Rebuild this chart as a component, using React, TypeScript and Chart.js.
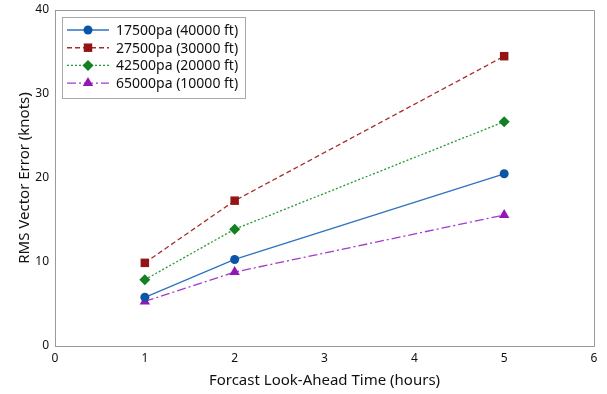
import React, { useEffect, useRef } from "react";
import { Chart, registerables } from "chart.js";
Chart.register(...registerables);

const hours = [1, 2, 5];
const err17500 = [5.8, 10.3, 20.5];
const err27500 = [9.9, 17.3, 34.5];
const err42500 = [7.9, 13.9, 26.7];
const err65000 = [5.3, 8.8, 15.6];
const seriesLabels = [
  "17500pa (40000 ft)",
  "27500pa (30000 ft)",
  "42500pa (20000 ft)",
  "65000pa (10000 ft)",
];
const xTitle = "Forcast Look-Ahead Time (hours)";
const yTitle = "RMS Vector Error (knots)";

const FONT = "'Noto Sans', 'Open Sans', sans-serif";
const AXIS = "#9a9a9a";
const TEXT = "#111";

function marker(ctx: CanvasRenderingContext2D, style: string, x: number, y: number, r: number) {
  ctx.beginPath();
  if (style === "circle") {
    ctx.arc(x, y, r, 0, Math.PI * 2);
  } else if (style === "rect") {
    const s = r * Math.SQRT1_2;
    ctx.rect(x - s, y - s, 2 * s, 2 * s);
  } else if (style === "rectRot") {
    ctx.moveTo(x, y - r);
    ctx.lineTo(x + r, y);
    ctx.lineTo(x, y + r);
    ctx.lineTo(x - r, y);
    ctx.closePath();
  } else if (style === "triangle") {
    ctx.moveTo(x, y - r);
    ctx.lineTo(x + r * 0.866, y + r * 0.5);
    ctx.lineTo(x - r * 0.866, y + r * 0.5);
    ctx.closePath();
  }
  ctx.fill();
}

const legendPlugin = {
  id: "insideLegend",
  afterDraw(chart: any) {
    const ctx = chart.ctx;
    const ca = chart.chartArea;
    const x0 = ca.left + 7, y0 = ca.top + 7, w = 183, h = 81;
    ctx.save();
    ctx.fillStyle = "#fff";
    ctx.fillRect(x0, y0, w, h);
    ctx.strokeStyle = "#a8a8a8";
    ctx.lineWidth = 1;
    ctx.strokeRect(x0 + 0.5, y0 + 0.5, w, h);
    chart.data.datasets.forEach((ds: any, i: number) => {
      const y = y0 + 13 + i * 17.7;
      ctx.strokeStyle = ds.borderColor;
      ctx.lineWidth = 1.4;
      ctx.setLineDash(ds.borderDash || []);
      ctx.beginPath();
      ctx.moveTo(x0 + 5, y);
      ctx.lineTo(x0 + 47, y);
      ctx.stroke();
      ctx.setLineDash([]);
      ctx.fillStyle = ds.pointBackgroundColor;
      marker(ctx, ds.pointStyle, x0 + 26, y, ds.pointRadius);
      ctx.fillStyle = TEXT;
      ctx.font = "14px " + FONT;
      ctx.textBaseline = "middle";
      ctx.textAlign = "left";
      ctx.fillText(ds.label, x0 + 54, y + 1);
    });
    ctx.restore();
  },
};

const framePlugin = {
  id: "frame",
  afterDatasetsDraw(chart: any) {
    const ctx = chart.ctx;
    const ca = chart.chartArea;
    ctx.save();
    ctx.strokeStyle = AXIS;
    ctx.lineWidth = 1;
    ctx.beginPath();
    ctx.moveTo(Math.round(ca.left) + 0.5, Math.round(ca.top) + 0.5);
    ctx.lineTo(Math.round(ca.right) + 0.5, Math.round(ca.top) + 0.5);
    ctx.lineTo(Math.round(ca.right) + 0.5, Math.round(ca.bottom) + 0.5);
    ctx.stroke();
    ctx.restore();
  },
};

export default function App() {
  const ref = useRef<HTMLCanvasElement>(null);
  useEffect(() => {
    document.body.style.margin = "0";
    const mk = (label: string, data: number[], line: string, fill: string, style: string, r: number, dash: number[]) => ({
      label,
      data: hours.map((x, i) => ({ x, y: data[i] })),
      borderColor: line,
      backgroundColor: fill,
      pointBackgroundColor: fill,
      pointBorderColor: fill,
      pointStyle: style,
      pointRadius: r,
      pointBorderWidth: 0,
      borderWidth: 1.3,
      borderDash: dash,
      tension: 0,
      showLine: true,
    });
    const chart = new Chart(ref.current!, {
      type: "scatter",
      data: {
        datasets: [
          mk(seriesLabels[0], err17500, "#2f72c0", "#0a55a6", "circle", 4.5, []),
          mk(seriesLabels[1], err27500, "#a62d2d", "#941515", "rect", 6, [5, 3]),
          mk(seriesLabels[2], err42500, "#239a36", "#138022", "rectRot", 5.5, [2, 2]),
          mk(seriesLabels[3], err65000, "#a13ccc", "#9416b8", "triangle", 6, [9, 3, 2, 3]),
        ] as any,
      },
      options: {
        animation: false,
        responsive: false,
        layout: { padding: { top: 10, right: 13, left: 12, bottom: 0 } },
        plugins: { legend: { display: false }, tooltip: { enabled: false } },
        scales: {
          x: {
            type: "linear",
            min: 0,
            max: 6,
            ticks: { stepSize: 1, color: TEXT, font: { family: FONT, size: 12 }, padding: 1 },
            grid: { display: false, drawTicks: true, tickLength: 4, tickColor: AXIS },
            border: { color: AXIS, width: 1 },
            title: { display: true, text: xTitle, color: TEXT, font: { family: FONT, size: 15 }, padding: { top: 3 } },
            afterFit(s: any) { s.height = 48; },
          },
          y: {
            min: 0,
            max: 40,
            ticks: { stepSize: 10, color: TEXT, font: { family: FONT, size: 12 }, padding: 2 },
            grid: { display: false, drawTicks: true, tickLength: 4, tickColor: AXIS },
            border: { color: AXIS, width: 1 },
            title: { display: true, text: yTitle, color: TEXT, font: { family: FONT, size: 15 }, padding: { bottom: 4 } },
            afterFit(s: any) { s.width = 43; },
          },
        },
      } as any,
      plugins: [framePlugin, legendPlugin],
    });
    return () => chart.destroy();
  }, []);
  return (
    <div style={{ position: "fixed", left: 0, top: 0, width: 607, height: 394, background: "#fff" }}>
      <canvas ref={ref} width={607} height={394} style={{ width: 607, height: 394 }} />
    </div>
  );
}
